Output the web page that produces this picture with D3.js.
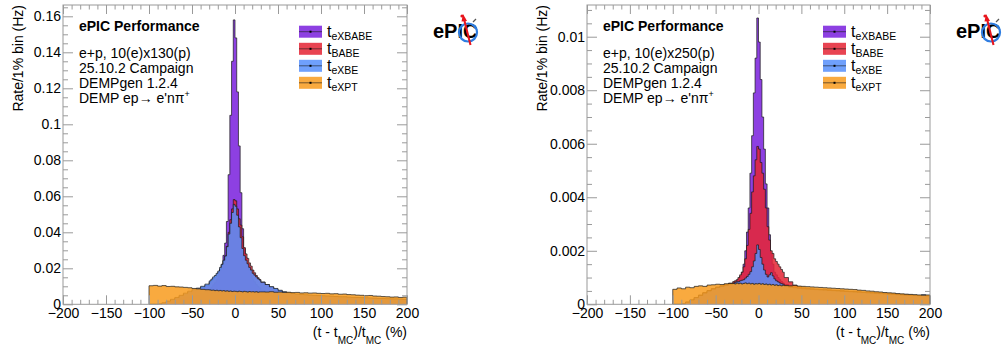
<!DOCTYPE html>
<html><head><meta charset="utf-8">
<script src="https://cdn.jsdelivr.net/npm/d3@7"></script>
<style>
body{margin:0;background:#fff;}
svg{display:block;font-family:"Liberation Sans",Arial,Helvetica,sans-serif;}
</style>
</head><body>
<svg id="chart" width="1003" height="352"></svg>
<script>
// ---------------- DATA ----------------
// bin edges (%): 5% bins in the tails, 2% bins around the peak
const binEdges = [...d3.range(-100, -30, 5), ...d3.range(-30, 30, 2), ...d3.range(30, 201, 5)];

const seriesNames = ["eXBABE", "BABE", "eXBE", "eXPT"];
const seriesColors = ["#7a21dd", "#e42536", "#5790fc", "#f89c20"];

const xTickValues = [-200, -150, -100, -50, 0, 50, 100, 150, 200];
const yTickValues1 = [0, 0.02, 0.04, 0.06, 0.08, 0.1, 0.12, 0.14, 0.16];
const yTickValues2 = [0, 0.002, 0.004, 0.006, 0.008, 0.01];

// Panel 1: 10(e)x130(p)
const p1_eXBABE = [0,0,0.0001,0.0006,0.0013,0.0020,0.0026,0.0031,0.0036,0.0040,0.0045,0.0051,0.0060,0.0074,
  0.0085,0.0095,0.0108,0.0120,0.0138,0.0160,0.0190,0.0222,0.0272,0.0340,0.0460,0.0720,0.1050,0.1350,0.1580,
  0.1480,0.1180,0.0880,0.0620,0.0420,0.0310,0.0260,0.0220,0.0190,0.0160,0.0140,0.0125,0.0110,0.0100,0.0090,
  0.0078,0.0068,0.0060,0.0055,0.0052,0.0050,0.0048,0.0047,0.0046,0.0045,0.0044,0.0043,0.0042,0.0041,0.0040,0.0039,0.0038,
  0.0037,0.0036,0.0036,0.0035,0.0034,0.0033,0.0032,0.0031,0.0030,0.0030,0.0029,0.0028,0.0027,0.0027,0.0026,0.0026,0.0025];
const p1_BABE = [0,0,0.0001,0.0006,0.0015,0.0024,0.0034,0.0045,0.0056,0.0066,0.0076,0.0084,0.0093,0.0105,
  0.0122,0.0132,0.0142,0.0152,0.0164,0.0178,0.0196,0.0216,0.0240,0.0268,0.0322,0.0400,0.0470,0.0530,0.0582,
  0.0575,0.0530,0.0475,0.0440,0.0375,0.0315,0.0280,0.0255,0.0230,0.0212,0.0190,0.0175,0.0160,0.0148,0.0138,
  0.0124,0.0110,0.0096,0.0084,0.0074,0.0066,0.0061,0.0057,0.0055,0.0053,0.0051,0.0050,0.0048,0.0047,0.0046,0.0045,0.0044,
  0.0043,0.0041,0.0041,0.0039,0.0038,0.0037,0.0036,0.0035,0.0034,0.0033,0.0032,0.0031,0.0030,0.0029,0.0029,0.0028,0.0027];
const p1_eXBE = [0,0,0.0002,0.0008,0.0018,0.0028,0.0038,0.0050,0.0062,0.0073,0.0083,0.0090,0.0100,0.0112,
  0.0130,0.0140,0.0152,0.0160,0.0172,0.0185,0.0205,0.0222,0.0245,0.0268,0.0320,0.0390,0.0450,0.0510,0.0555,
  0.0545,0.0495,0.0430,0.0370,0.0310,0.0270,0.0245,0.0225,0.0205,0.0190,0.0172,0.0162,0.0152,0.0142,0.0135,
  0.0122,0.0110,0.0098,0.0088,0.0078,0.0070,0.0064,0.0060,0.0057,0.0055,0.0053,0.0051,0.0050,0.0048,0.0047,0.0046,0.0045,
  0.0044,0.0042,0.0042,0.0040,0.0039,0.0038,0.0037,0.0036,0.0035,0.0034,0.0033,0.0032,0.0031,0.0030,0.0030,0.0029,0.0028];
const p1_eXPT = [0.0103,0.0105,0.0101,0.0104,0.0099,0.0100,0.0097,0.0096,0.0094,0.0092,0.0088,0.0086,0.0083,0.0081,
  0.0080,0.0078,0.0079,0.0076,0.0078,0.0075,0.0077,0.0074,0.0076,0.0073,0.0075,0.0072,0.0074,0.0071,0.0073,
  0.0072,0.0070,0.0073,0.0071,0.0069,0.0072,0.0070,0.0068,0.0071,0.0069,0.0070,0.0068,0.0070,0.0067,0.0069,
  0.0069,0.0068,0.0070,0.0067,0.0068,0.0066,0.0067,0.0065,0.0066,0.0063,0.0064,0.0062,0.0063,0.0061,0.0060,0.0061,0.0058,
  0.0059,0.0056,0.0057,0.0054,0.0053,0.0051,0.0050,0.0048,0.0049,0.0046,0.0045,0.0043,0.0042,0.0040,0.0041,0.0038,0.0040];

// Panel 2: 10(e)x250(p)
const p2_eXBABE = [0,0,0.00002,0.00008,0.00016,0.00025,0.00034,0.00043,0.00051,0.00058,0.00064,0.00069,0.00073,0.00077,
  0.00080,0.00084,0.00088,0.00095,0.00105,0.00120,0.00150,0.00200,0.00270,0.00360,0.00490,0.00630,0.00790,0.00920,0.01070,
  0.00980,0.00840,0.00700,0.00580,0.00450,0.00360,0.00260,0.00190,0.00150,0.00120,0.00110,0.00100,0.00092,0.00085,0.00080,
  0.00074,0.00068,0.00064,0.00061,0.00059,0.00057,0.00056,0.00055,0.00054,0.00053,0.00052,0.00051,0.00050,0.00049,0.00048,0.00047,0.00046,
  0.00045,0.00044,0.00043,0.00042,0.00041,0.00040,0.00039,0.00038,0.00037,0.00036,0.00035,0.00034,0.00033,0.00032,0.00031,0.00031,0.00030];
const p2_BABE = [0,0,0.00002,0.00008,0.00016,0.00025,0.00034,0.00043,0.00051,0.00058,0.00064,0.00069,0.00074,0.00079,
  0.00085,0.00088,0.00092,0.00100,0.00110,0.00120,0.00140,0.00170,0.00220,0.00280,0.00340,0.00420,0.00480,0.00540,0.00590,
  0.00580,0.00530,0.00490,0.00430,0.00360,0.00290,0.00240,0.00200,0.00190,0.00170,0.00160,0.00150,0.00140,0.00130,0.00120,
  0.00100,0.00084,0.00072,0.00066,0.00062,0.00060,0.00058,0.00057,0.00056,0.00055,0.00054,0.00053,0.00052,0.00051,0.00050,0.00049,0.00048,
  0.00047,0.00046,0.00045,0.00044,0.00043,0.00042,0.00041,0.00040,0.00039,0.00038,0.00037,0.00036,0.00035,0.00034,0.00033,0.00032,0.00031];
const p2_eXBE = [0,0,0.00002,0.00008,0.00016,0.00025,0.00033,0.00042,0.00050,0.00057,0.00063,0.00067,0.00071,0.00075,
  0.00079,0.00082,0.00086,0.00084,0.00088,0.00090,0.00092,0.00098,0.00104,0.00112,0.00122,0.00140,0.00162,0.00190,0.00222,
  0.00205,0.00175,0.00150,0.00128,0.00112,0.00102,0.00110,0.00118,0.00106,0.00095,0.00088,0.00084,0.00080,0.00077,0.00075,
  0.00068,0.00064,0.00062,0.00060,0.00058,0.00057,0.00056,0.00055,0.00054,0.00053,0.00052,0.00051,0.00050,0.00049,0.00048,0.00047,0.00046,
  0.00045,0.00044,0.00043,0.00042,0.00041,0.00040,0.00039,0.00038,0.00037,0.00036,0.00035,0.00034,0.00033,0.00033,0.00032,0.00036,0.00031];
const p2_eXPT = [0.00056,0.00061,0.00058,0.00064,0.00062,0.00067,0.00069,0.00067,0.00072,0.00073,0.00075,0.00074,0.00077,0.00078,
  0.00078,0.00076,0.00080,0.00077,0.00079,0.00076,0.00078,0.00080,0.00077,0.00079,0.00076,0.00078,0.00075,0.00077,0.00076,
  0.00078,0.00075,0.00077,0.00074,0.00076,0.00073,0.00075,0.00072,0.00074,0.00071,0.00073,0.00070,0.00072,0.00069,0.00071,
  0.00070,0.00069,0.00070,0.00068,0.00067,0.00066,0.00065,0.00064,0.00063,0.00062,0.00061,0.00060,0.00059,0.00058,0.00057,0.00056,0.00055,
  0.00053,0.00052,0.00050,0.00049,0.00047,0.00046,0.00044,0.00043,0.00042,0.00040,0.00039,0.00038,0.00037,0.00036,0.00035,0.00034,0.00035];

const infoLines1 = ["e+p, 10(e)x130(p)", "25.10.2 Campaign", "DEMPgen 1.2.4"];
const infoLines2 = ["e+p, 10(e)x250(p)", "25.10.2 Campaign", "DEMPgen 1.2.4"];

// ---------------- DRAWING ----------------
const svg = d3.select("#chart");
const defs = svg.append("defs");
const FONT = 14;
const fmt = d => String(+d.toFixed(4));

function drawPanel(P) {
  const x = d3.scaleLinear().domain([-200, 200]).range([P.left, P.right]);
  const y = d3.scaleLinear().domain([0, P.ymax]).range([P.bottom, P.top]);
  const g = svg.append("g");

  defs.append("clipPath").attr("id", "clip" + P.id).append("rect")
    .attr("x", P.left).attr("y", P.top).attr("width", P.right - P.left).attr("height", P.bottom - P.top);
  const hg = g.append("g").attr("clip-path", `url(#clip${P.id})`);

  const line = d3.line().x(d => x(d[0])).y(d => y(d[1]));
  P.series.forEach((vals, si) => {
    const pts = [[binEdges[0], 0]];
    vals.forEach((v, i) => { pts.push([binEdges[i], v]); pts.push([binEdges[i + 1], v]); });
    pts.push([binEdges[binEdges.length - 1], 0]);
    hg.append("path").attr("d", line(pts) + "Z")
      .attr("fill", seriesColors[si]).attr("fill-opacity", 0.86).attr("stroke", "none");
    hg.append("path").attr("d", line(pts))
      .attr("fill", "none").attr("stroke", "#1a1a1a").attr("stroke-opacity", 0.7).attr("stroke-width", 1);
  });

  // axes
  const tickColor = "#9a9a9a";
  const xMinor = d3.range(-200, 201, 10).filter(v => v % 50 !== 0);
  const yMinor = d3.range(0, P.ymax, P.yMinorStep).filter(v => !P.yTicks.some(t => Math.abs(t - v) < P.yMinorStep / 10));
  const styleAxis = sel => { sel.select(".domain").remove(); sel.selectAll("line").attr("stroke", tickColor); };

  g.append("g").attr("transform", `translate(0,${P.bottom})`)
    .call(d3.axisBottom(x).tickValues(xTickValues).tickSize(-9).tickPadding(4).tickFormat(d3.format("")))
    .call(styleAxis)
    .call(s => s.selectAll("text").attr("font-size", FONT).attr("fill", "#000").attr("font-family", null));
  g.append("g").attr("transform", `translate(0,${P.bottom})`)
    .call(d3.axisBottom(x).tickValues(xMinor).tickSize(-4.5).tickFormat(""))
    .call(styleAxis);
  g.append("g").attr("transform", `translate(0,${P.top})`)
    .call(d3.axisTop(x).tickValues(xTickValues).tickSize(-9).tickFormat(""))
    .call(styleAxis);
  g.append("g").attr("transform", `translate(0,${P.top})`)
    .call(d3.axisTop(x).tickValues(xMinor).tickSize(-4.5).tickFormat(""))
    .call(styleAxis);

  g.append("g").attr("transform", `translate(${P.left},0)`)
    .call(d3.axisLeft(y).tickValues(P.yTicks).tickSize(-10).tickPadding(2).tickFormat(fmt))
    .call(styleAxis)
    .call(s => s.selectAll("text").attr("font-size", FONT).attr("fill", "#000").attr("font-family", null));
  g.append("g").attr("transform", `translate(${P.left},0)`)
    .call(d3.axisLeft(y).tickValues(yMinor).tickSize(-5).tickFormat(""))
    .call(styleAxis);
  g.append("g").attr("transform", `translate(${P.right},0)`)
    .call(d3.axisRight(y).tickValues(P.yTicks).tickSize(-10).tickFormat(""))
    .call(styleAxis);
  g.append("g").attr("transform", `translate(${P.right},0)`)
    .call(d3.axisRight(y).tickValues(yMinor).tickSize(-5).tickFormat(""))
    .call(styleAxis);

  g.append("rect").attr("x", P.left).attr("y", P.top)
    .attr("width", P.right - P.left).attr("height", P.bottom - P.top)
    .attr("fill", "none").attr("stroke", tickColor).attr("stroke-width", 1);

  // axis titles
  g.append("text").attr("transform", `translate(${P.left - 40.5},${P.top}) rotate(-90)`)
    .attr("text-anchor", "end").attr("font-size", FONT).text("Rate/1% bin (Hz)");
  const xt = g.append("text").attr("x", P.right).attr("y", 337).attr("text-anchor", "end").attr("font-size", FONT);
  xt.append("tspan").text("(t - t");
  xt.append("tspan").attr("font-size", 10).attr("dy", 7).text("MC");
  xt.append("tspan").attr("dy", -7).text(")/t");
  xt.append("tspan").attr("font-size", 10).attr("dy", 7).text("MC");
  xt.append("tspan").attr("dy", -7).text(" (%)");

  // info text
  const tx = P.left + 16;
  g.append("text").attr("x", tx).attr("y", 31).attr("font-size", FONT).attr("font-weight", "bold").text("ePIC Performance");
  P.info.forEach((t, i) => {
    g.append("text").attr("x", tx).attr("y", 58 + i * 15).attr("font-size", FONT).text(t);
  });
  const dm = g.append("text").attr("x", tx).attr("y", 103).attr("font-size", FONT);
  dm.append("tspan").text("DEMP ep\u2192 e'n\u03c0");
  dm.append("tspan").attr("font-size", 9).attr("dy", -6).text("+");

  // legend
  const lx = P.left + 236, rowY = [31.7, 48.8, 65.8, 82.8];
  seriesNames.forEach((name, i) => {
    const cy = rowY[i];
    g.append("rect").attr("x", lx).attr("y", cy - 6).attr("width", 23).attr("height", 12)
      .attr("fill", seriesColors[i]).attr("fill-opacity", 0.86);
    g.append("line").attr("x1", lx).attr("x2", lx + 23).attr("y1", cy).attr("y2", cy)
      .attr("stroke", "#1a1a1a").attr("stroke-opacity", 0.6);
    g.append("rect").attr("x", lx + 10.5).attr("y", cy - 1).attr("width", 2).attr("height", 2).attr("fill", "#000");
    const t = g.append("text").attr("x", lx + 28).attr("y", cy + 5).attr("font-size", 16);
    t.append("tspan").text("t");
    t.append("tspan").attr("font-size", 10.5).attr("dy", 3.5).text(name);
  });

  // ePIC logo
  const ox = P.right + 26;
  const lg = g.append("g");
  lg.append("text").attr("x", ox).attr("y", 38).attr("font-size", 20).attr("font-weight", "bold").text("ePIC");
  lg.append("circle").attr("cx", ox + 35).attr("cy", 32.5).attr("r", 9)
    .attr("fill", "none").attr("stroke", "#2f7de1").attr("stroke-width", 2.2);
  lg.append("line").attr("x1", ox + 31).attr("y1", 19).attr("x2", ox + 37.5).attr("y2", 45)
    .attr("stroke", "#e8141c").attr("stroke-width", 2);
  lg.append("path").attr("d", `M${ox + 30},${14} L${ox + 34},${21} L${ox + 28.5},${21.5} Z`).attr("fill", "#e8141c");
  lg.append("line").attr("x1", ox + 40).attr("y1", 22).attr("x2", ox + 43).attr("y2", 19)
    .attr("stroke", "#555").attr("stroke-width", 1.2);
  lg.append("circle").attr("cx", ox + 29).attr("cy", 16).attr("r", 1.6).attr("fill", "#e8141c");
}

drawPanel({ id: 1, left: 63, right: 407, top: 5, bottom: 304.3, ymax: 0.16628, yTicks: yTickValues1, yMinorStep: 0.005,
  series: [p1_eXBABE, p1_BABE, p1_eXBE, p1_eXPT], info: infoLines1 });
drawPanel({ id: 2, left: 587, right: 930, top: 5, bottom: 304.3, ymax: 0.011185, yTicks: yTickValues2, yMinorStep: 0.0005,
  series: [p2_eXBABE, p2_BABE, p2_eXBE, p2_eXPT], info: infoLines2 });
</script>
</body></html>
